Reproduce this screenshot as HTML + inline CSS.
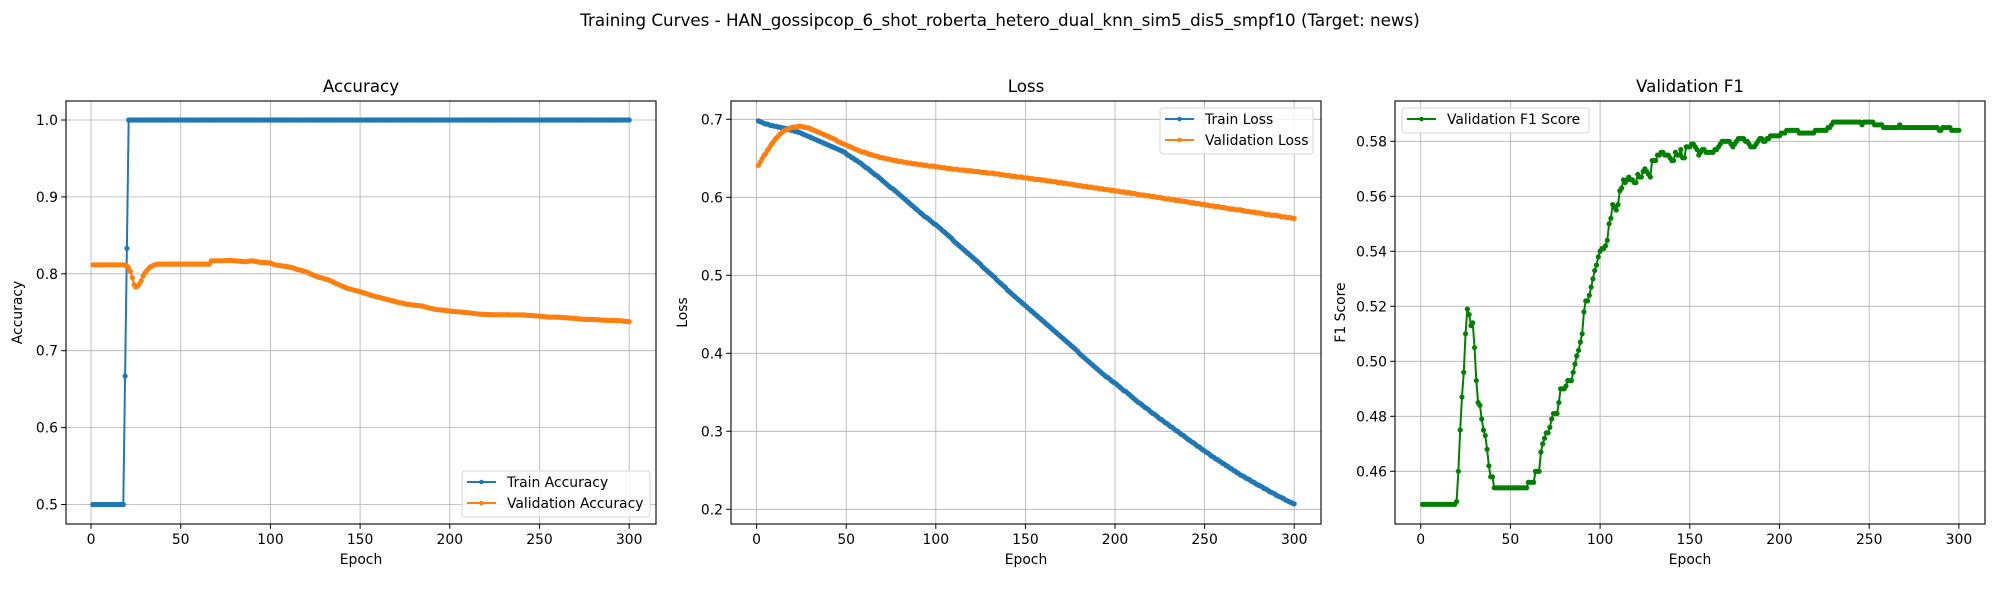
<!DOCTYPE html>
<html><head><meta charset="utf-8"><style>
html,body{margin:0;padding:0;background:#fff}
svg{display:block}
text{font-family:"DejaVu Sans","Liberation Sans",sans-serif;fill:#000}
</style></head>
<body>
<svg id="fig" xmlns="http://www.w3.org/2000/svg" width="2000" height="600" viewBox="0 0 2000 600">
<rect width="2000" height="600" fill="#fff"/>
<text x="1000" y="26" font-size="16.7" text-anchor="middle">Training Curves - HAN_gossipcop_6_shot_roberta_hetero_dual_knn_sim5_dis5_smpf10 (Target: news)</text>
</svg>
<script>
const epochTicks=[0,50,100,150,200,250,300];
const accTicks=[0.5,0.6,0.7,0.8,0.9,1.0];
const lossTicks=[0.2,0.3,0.4,0.5,0.6,0.7];
const f1Ticks=[0.46,0.48,0.50,0.52,0.54,0.56,0.58];
const trainAcc=[
.5,.5,.5,.5,.5,.5,.5,.5,.5,.5,
.5,.5,.5,.5,.5,.5,.5,.5,.667,.833,
1,1,1,1,1,1,1,1,1,1,1,1,1,1,1,1,1,1,1,1,1,1,1,1,1,1,1,1,1,1,
1,1,1,1,1,1,1,1,1,1,1,1,1,1,1,1,1,1,1,1,1,1,1,1,1,1,1,1,1,1,
1,1,1,1,1,1,1,1,1,1,1,1,1,1,1,1,1,1,1,1,1,1,1,1,1,1,1,1,1,1,
1,1,1,1,1,1,1,1,1,1,1,1,1,1,1,1,1,1,1,1,1,1,1,1,1,1,1,1,1,1,
1,1,1,1,1,1,1,1,1,1,1,1,1,1,1,1,1,1,1,1,1,1,1,1,1,1,1,1,1,1,
1,1,1,1,1,1,1,1,1,1,1,1,1,1,1,1,1,1,1,1,1,1,1,1,1,1,1,1,1,1,
1,1,1,1,1,1,1,1,1,1,1,1,1,1,1,1,1,1,1,1,1,1,1,1,1,1,1,1,1,1,
1,1,1,1,1,1,1,1,1,1,1,1,1,1,1,1,1,1,1,1,1,1,1,1,1,1,1,1,1,1,
1,1,1,1,1,1,1,1,1,1,1,1,1,1,1,1,1,1,1,1,1,1,1,1,1,1,1,1,1,1,
1,1,1,1,1,1,1,1,1,1];
const valAcc=[
.8117,.8117,.8117,.8117,.8117,.8117,.8117,.8117,.8117,.8117,
.8117,.8117,.8117,.8117,.8117,.8117,.8117,.8117,.8117,.8100,
.8078,.8030,.7950,.7860,.7830,.7840,.7870,.7910,.7970,.8010,
.8040,.8065,.8090,.8100,.8113,.8120,.8126,.8126,.8126,.8126,
.8126,.8126,.8126,.8126,.8126,.8126,.8126,.8126,.8126,.8126,
.8126,.8126,.8126,.8126,.8126,.8126,.8126,.8126,.8126,.8126,
.8126,.8126,.8126,.8126,.8126,.8126,.8169,.8169,.8169,.8169,
.8169,.8169,.8169,.8172,.8172,.8172,.8175,.8175,.8172,.8169,
.8169,.8165,.8165,.8160,.8160,.8156,.8160,.8165,.8169,.8169,
.8165,.8160,.8156,.8150,.8147,.8147,.8147,.8145,.8143,.8143,
.8130,.8120,.8115,.8110,.8110,.8105,.8100,.8100,.8095,.8090,
.8085,.8080,.8075,.8065,.8056,.8050,.8045,.8040,.8030,.8026,
.8015,.8005,.7995,.7980,.7975,.7965,.7955,.7950,.7945,.7935,
.7930,.7926,.7915,.7905,.7895,.7880,.7870,.7860,.7850,.7840,
.7830,.7820,.7810,.7805,.7800,.7790,.7785,.7780,.7775,.7765,
.7760,.7753,.7745,.7737,.7728,.7719,.7715,.7710,.7703,.7697,
.7692,.7685,.7680,.7673,.7667,.7660,.7655,.7650,.7643,.7636,
.7630,.7625,.7620,.7615,.7610,.7605,.7602,.7600,.7596,.7593,
.7590,.7588,.7585,.7583,.7580,.7572,.7565,.7558,.7553,.7548,
.7543,.7537,.7535,.7532,.7530,.7528,.7525,.7522,.7518,.7515,
.7513,.7511,.7509,.7508,.7506,.7504,.7502,.7499,.7497,.7494,
.7491,.7488,.7486,.7483,.7480,.7478,.7476,.7475,.7473,.7472,
.7471,.7470,.7469,.7469,.7468,.7468,.7468,.7468,.7468,.7468,
.7468,.7468,.7468,.7467,.7467,.7467,.7467,.7467,.7467,.7467,
.7466,.7464,.7462,.7460,.7459,.7457,.7455,.7453,.7452,.7450,
.7448,.7445,.7442,.7440,.7437,.7437,.7437,.7437,.7437,.7437,
.7435,.7434,.7432,.7430,.7429,.7427,.7425,.7423,.7422,.7420,
.7418,.7415,.7412,.7410,.7407,.7407,.7407,.7407,.7407,.7407,
.7405,.7403,.7401,.7400,.7398,.7397,.7396,.7395,.7395,.7394,
.7393,.7392,.7391,.7391,.7390,.7388,.7385,.7382,.7380,.7377];
const trainLoss=[
.698,.697,.696,.695,.694,.694,.693,.692,.692,.691,
.691,.690,.690,.689,.689,.688,.688,.687,.686,.686,
.685,.684,.684,.683,.682,.681,.680,.679,.678,.677,
.676,.675,.674,.673,.672,.671,.670,.669,.668,.667,
.666,.665,.664,.663,.662,.661,.660,.659,.658,.656,
.654,.653,.651,.650,.648,.647,.645,.644,.642,.640,
.638,.637,.635,.633,.631,.629,.628,.626,.624,.622,
.620,.618,.616,.614,.612,.611,.609,.607,.605,.603,
.601,.599,.597,.595,.593,.591,.589,.587,.585,.583,
.581,.579,.577,.575,.574,.572,.570,.568,.566,.565,
.563,.561,.559,.557,.555,.553,.551,.549,.547,.544,
.542,.540,.538,.536,.534,.532,.530,.528,.526,.524,
.522,.520,.518,.516,.514,.511,.509,.507,.505,.503,
.501,.499,.497,.494,.492,.490,.488,.486,.484,.481,
.479,.477,.475,.473,.471,.469,.467,.465,.463,.461,
.459,.457,.455,.453,.451,.449,.447,.445,.443,.441,
.439,.437,.435,.433,.431,.429,.427,.425,.423,.421,
.419,.417,.415,.413,.411,.409,.407,.405,.403,.400,
.398,.396,.394,.392,.390,.388,.386,.384,.382,.380,
.378,.376,.374,.372,.370,.369,.367,.365,.363,.362,
.360,.358,.356,.354,.352,.351,.349,.347,.345,.343,
.341,.339,.337,.336,.334,.332,.330,.329,.327,.325,
.323,.322,.320,.318,.316,.315,.313,.311,.310,.308,
.306,.305,.303,.301,.300,.298,.296,.295,.293,.291,
.289,.288,.286,.285,.283,.281,.280,.278,.276,.275,
.273,.272,.270,.268,.267,.265,.264,.262,.261,.259,
.258,.256,.255,.253,.252,.250,.249,.247,.246,.244,
.243,.242,.240,.239,.238,.236,.235,.234,.232,.231,
.230,.229,.227,.226,.225,.223,.222,.221,.220,.218,
.217,.216,.215,.214,.212,.211,.210,.209,.208,.207];
const valLoss=[
.641,.645,.649,.653,.656,.660,.663,.667,.670,.673,
.676,.678,.681,.683,.685,.686,.687,.688,.689,.690,
.690,.690,.691,.691,.691,.690,.690,.689,.689,.688,
.687,.686,.685,.684,.683,.682,.681,.680,.679,.678,
.677,.676,.675,.674,.672,.671,.670,.669,.668,.667,
.666,.665,.664,.663,.662,.661,.660,.659,.658,.658,
.657,.656,.655,.655,.654,.653,.653,.652,.651,.651,
.650,.650,.649,.649,.648,.648,.647,.647,.646,.646,
.646,.645,.645,.644,.644,.644,.643,.643,.643,.642,
.642,.642,.641,.641,.641,.640,.640,.640,.640,.639,
.639,.639,.638,.638,.638,.637,.637,.637,.636,.636,
.636,.636,.635,.635,.635,.635,.634,.634,.634,.634,
.633,.633,.633,.633,.632,.632,.632,.632,.631,.631,
.631,.631,.630,.630,.630,.629,.629,.629,.628,.628,
.628,.627,.627,.627,.626,.626,.626,.626,.625,.625,
.625,.624,.624,.624,.623,.623,.623,.623,.622,.622,
.622,.621,.621,.621,.620,.620,.620,.619,.619,.619,
.618,.618,.618,.617,.617,.617,.616,.616,.615,.615,
.615,.614,.614,.614,.613,.613,.613,.612,.612,.612,
.611,.611,.611,.610,.610,.610,.609,.609,.609,.608,
.608,.608,.607,.607,.607,.606,.606,.606,.605,.605,
.605,.604,.604,.603,.603,.603,.602,.602,.602,.601,
.601,.601,.600,.600,.600,.599,.599,.598,.598,.598,
.597,.597,.597,.596,.596,.596,.595,.595,.595,.594,
.594,.593,.593,.593,.592,.592,.592,.591,.591,.591,
.590,.590,.589,.589,.589,.588,.588,.588,.587,.587,
.587,.586,.586,.585,.585,.585,.584,.584,.584,.584,
.583,.583,.582,.582,.582,.581,.581,.581,.580,.580,
.580,.579,.579,.578,.578,.578,.577,.577,.577,.577,
.576,.576,.575,.575,.575,.574,.574,.574,.573,.573];
const valF1=[
.448,.448,.448,.448,.448,.448,.448,.448,.448,.448,
.448,.448,.448,.448,.448,.448,.448,.448,.448,.449,
.460,.475,.487,.496,.510,.519,.517,.513,.514,.505,
.493,.485,.484,.479,.475,.473,.468,.462,.458,.458,
.454,.454,.454,.454,.454,.454,.454,.454,.454,.454,
.454,.454,.454,.454,.454,.454,.454,.454,.454,.456,
.456,.456,.456,.460,.460,.460,.467,.470,.472,.474,
.474,.476,.479,.481,.481,.481,.485,.490,.490,.490,
.491,.493,.493,.493,.496,.499,.502,.504,.507,.510,
.518,.522,.522,.524,.527,.530,.533,.535,.538,.540,
.541,.541,.542,.544,.550,.552,.557,.556,.555,.557,
.562,.563,.566,.565,.566,.567,.566,.566,.565,.565,
.568,.567,.567,.569,.570,.569,.568,.567,.573,.573,
.573,.575,.575,.576,.576,.575,.575,.575,.574,.573,
.573,.576,.575,.575,.577,.574,.574,.578,.578,.578,
.579,.579,.578,.577,.575,.576,.577,.577,.576,.576,
.576,.576,.576,.577,.577,.578,.579,.580,.580,.580,
.580,.580,.579,.578,.579,.580,.581,.581,.581,.581,
.580,.580,.579,.578,.578,.578,.579,.580,.581,.581,
.580,.580,.581,.581,.582,.582,.582,.582,.582,.582,
.583,.583,.583,.584,.584,.584,.584,.584,.584,.584,
.583,.583,.583,.583,.583,.583,.583,.583,.583,.584,
.584,.584,.584,.584,.584,.584,.585,.585,.586,.587,
.587,.587,.587,.587,.587,.587,.587,.587,.587,.587,
.587,.587,.587,.587,.587,.586,.587,.587,.587,.587,
.587,.587,.586,.586,.586,.586,.586,.585,.585,.585,
.585,.585,.585,.585,.585,.585,.586,.585,.585,.585,
.585,.585,.585,.585,.585,.585,.585,.585,.585,.585,
.585,.585,.585,.585,.585,.585,.585,.585,.584,.584,
.585,.585,.585,.585,.585,.584,.584,.584,.584,.584];

const NS='http://www.w3.org/2000/svg';
const svg=document.getElementById('fig');
function mk(tag,attrs,parent){const e=document.createElementNS(NS,tag);for(const k in attrs)e.setAttribute(k,attrs[k]);(parent||svg).appendChild(e);return e;}
function txt(s,attrs,parent){const e=mk('text',attrs,parent);e.textContent=s;return e;}

function panel(cfg){
  const g=mk('g',{});
  
  
  const L=cfg.left,R=cfg.left+590,T=101,B=524;
  const xs=e=>cfg.x0+e*cfg.xk;
  const ys=v=>cfg.yRef+(cfg.vRef-v)*cfg.yk;
  epochTicks.forEach(t=>{
    const l=mk('line',{x1:xs(t),x2:xs(t),y1:T,y2:B,stroke:'#b0b0b0','stroke-width':0.8},g);
    
    
  });
  cfg.yTicks.forEach(t=>{
    const l=mk('line',{x1:L,x2:R,y1:ys(t),y2:ys(t),stroke:'#b0b0b0','stroke-width':0.8},g);
    
    
  });
  cfg.series.forEach(s=>{
    const pts=s.data.map((v,i)=>xs(i+1).toFixed(2)+','+ys(v).toFixed(2)).join(' ');
    const pl=mk('polyline',{points:pts,fill:'none',stroke:s.color,'stroke-width':2,'stroke-linejoin':'round'},g);
    
    
    const mg=mk('g',{fill:s.color},g);
    
    
    s.data.forEach((v,i)=>{
      const c=mk('circle',{cx:xs(i+1).toFixed(2),cy:ys(v).toFixed(2),r:2.6},mg);
      
      
    });
  });
  const fr=mk('rect',{x:L,y:T,width:590,height:B-T,fill:'none',stroke:'#000','stroke-width':1.1},g);
  
  
  epochTicks.forEach(t=>{
    mk('line',{x1:xs(t),x2:xs(t),y1:B,y2:B+4.8,stroke:'#000','stroke-width':1},g);
    const tl=txt(String(t),{x:xs(t),y:B+20,'font-size':13.9,'text-anchor':'middle'},g);
    
    
  });
  cfg.yTicks.forEach(t=>{
    mk('line',{x1:L-4.8,x2:L,y1:ys(t),y2:ys(t),stroke:'#000','stroke-width':1},g);
    const tl=txt(t.toFixed(cfg.dec),{x:L-8,y:ys(t)+5,'font-size':13.9,'text-anchor':'end'},g);
    
    
  });
  const xt=txt('Epoch',{x:(L+R)/2,y:B+40,'font-size':13.9,'text-anchor':'middle'},g);
  
  
  const yt=txt(cfg.ylabel,{x:0,y:0,'font-size':13.9,'text-anchor':'middle',transform:`translate(${cfg.ylx},${(T+B)/2}) rotate(-90)`},g);
  
  
  const ti=txt(cfg.title,{x:(L+R)/2,y:92,'font-size':16.7,'text-anchor':'middle'},g);
  
  
  const lg=mk('g',{},g);
  
  
  const lb=cfg.legend;
  mk('rect',{x:lb.x,y:lb.y,width:lb.w,height:lb.h,rx:3,fill:'#fff','fill-opacity':0.8,stroke:'#d6d6d6','stroke-width':1},lg);
  cfg.series.forEach((s,i)=>{
    const yy=lb.y+11+i*21;
    const en=mk('g',{},lg);
    
    
    mk('line',{x1:lb.x+5,x2:lb.x+34,y1:yy,y2:yy,stroke:s.color,'stroke-width':2},en);
    mk('circle',{cx:lb.x+19.5,cy:yy,r:2.3,fill:s.color},en);
    txt(s.label,{x:lb.x+45,y:yy+5,'font-size':13.9},en);
  });
}

panel({name:'accuracy-panel',title:'Accuracy',ylabel:'Accuracy',left:66,x0:91,xk:1.794,yRef:120,vRef:1.0,yk:769,yTicks:accTicks,dec:1,ylx:22,
  series:[{id:'train-accuracy',label:'Train Accuracy',color:'#1f77b4',data:trainAcc},{id:'validation-accuracy',label:'Validation Accuracy',color:'#ff7f0e',data:valAcc}],
  legend:{x:462,y:471,w:188,h:46}});
panel({name:'loss-panel',title:'Loss',ylabel:'Loss',left:731,x0:756.6,xk:1.792,yRef:119.3,vRef:0.7,yk:780,yTicks:lossTicks,dec:1,ylx:687,
  series:[{id:'train-loss',label:'Train Loss',color:'#1f77b4',data:trainLoss},{id:'validation-loss',label:'Validation Loss',color:'#ff7f0e',data:valLoss}],
  legend:{x:1160,y:108,w:153,h:46}});
panel({name:'f1-panel',title:'Validation F1',ylabel:'F1 Score',left:1395,x0:1420.7,xk:1.794,yRef:141.3,vRef:0.58,yk:2750,yTicks:f1Ticks,dec:2,ylx:1345,
  series:[{id:'validation-f1',label:'Validation F1 Score',color:'#008000',data:valF1}],
  legend:{x:1402,y:108,w:187,h:25}});
</script>
</body></html>
